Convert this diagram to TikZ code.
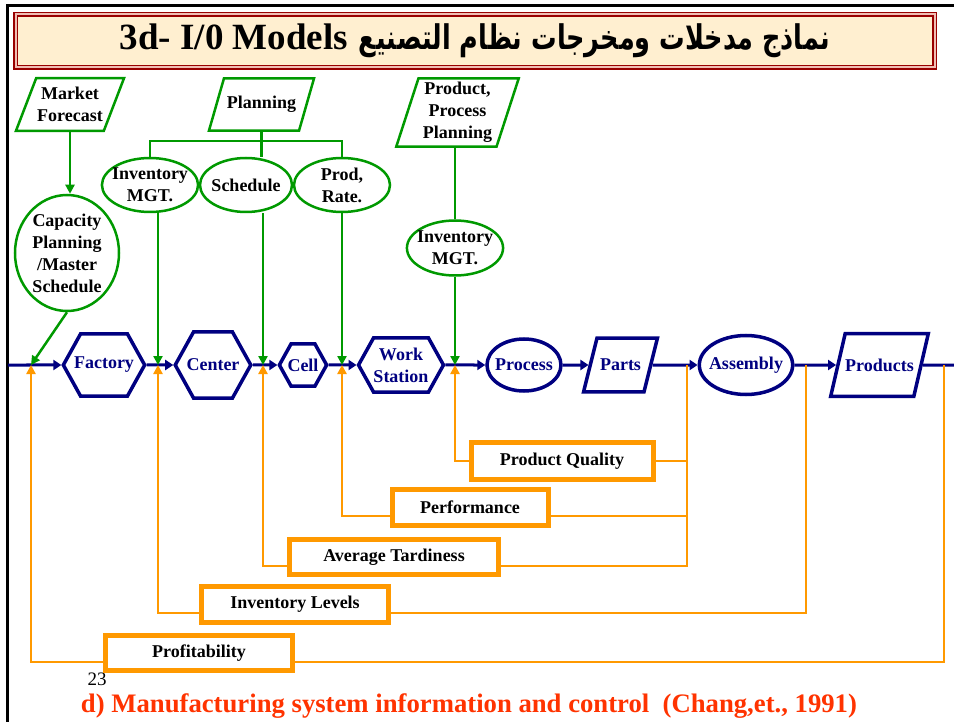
\documentclass[tikz,border=0pt]{standalone}
\usepackage{fontspec}
\setmainfont{Liberation Serif}
\newfontfamily\arabicfont[Script=Arabic]{DejaVu Sans}
\TeXXeTstate=1
\usetikzlibrary{shapes.geometric,shapes.symbols,arrows.meta}

\definecolor{navy}{RGB}{0,0,128}
\definecolor{ingreen}{RGB}{0,153,0}
\definecolor{fborange}{RGB}{255,153,0}
\definecolor{titlered}{RGB}{153,0,0}
\definecolor{titlefill}{RGB}{255,239,208}
\definecolor{titlepink}{RGB}{240,190,180}
\definecolor{captionred}{RGB}{255,51,0}

\tikzset{
  inbox/.style={trapezium,trapezium left angle=#1,trapezium right angle=180-#1,
    draw=ingreen,line width=2.5pt},
  inoval/.style={ellipse,draw=ingreen,line width=2.5pt,fill=white,inner xsep=-4pt,inner ysep=0pt},
  inline/.style={ingreen,line width=2.5pt},
  inarrow/.style={ingreen,line width=2.5pt,-{Triangle[length=9pt,width=9pt]}},
  hexa/.style={signal,signal to=east and west,signal pointer angle=122,draw=navy,
    line width=3.5pt,text=navy},
  blueoval/.style={ellipse,draw=navy,line width=3.5pt,text=navy,inner xsep=-4pt,inner ysep=0pt},
  bluepar/.style={trapezium,trapezium left angle=#1,trapezium right angle=180-#1,
    draw=navy,line width=3.5pt,text=navy},
  flow/.style={navy,line width=3pt,-{Triangle[length=8pt,width=10pt]}},
  flowline/.style={navy,line width=3pt},
  fbbox/.style={draw=fborange,line width=5pt,fill=white,inner sep=0pt},
  fbline/.style={fborange,line width=2.5pt},
  fbarrow/.style={fborange,line width=2.5pt,-{Triangle[length=9pt,width=9pt]}}
}

\begin{document}
\begin{tikzpicture}[x=1pt,y=-1pt,
  every node/.style={font=\fontsize{18}{22}\selectfont\bfseries,align=center}]

\useasboundingbox (0,0) rectangle (954,722);

\draw [line width=3pt] (7,722) -- (7,6) -- (954,6);

\node [draw=titlered,line width=1.5pt,double=titlepink,double distance=2pt,fill=titlefill,
  minimum width=919pt,minimum height=53pt] (title) at (475,41)
  {\fontsize{37}{40}\selectfont 3d- I/0 Models\hspace{11pt}%
   \scalebox{0.75}[1]{\fontsize{34}{40}\arabicfont\beginR نماذج مدخلات ومخرجات نظام التصنيع\endR}};

\node [inbox=69,inner xsep=1pt,inner ysep=9pt] (mf) at (70,104.5) {Market\\Forecast};
\node [inbox=74,inner xsep=3pt,inner ysep=18pt] (plan) at (261.5,104.5) {Planning};
\node [inbox=72,inner xsep=4.5pt,inner ysep=4pt] (ppp) at (457.5,112.5) {Product,\\Process\\Planning};

\node [inoval,minimum width=95pt,minimum height=54pt] (inv1) at (150,185) {Inventory\\MGT.};
\node [inoval,minimum width=92pt,minimum height=54pt] (sched) at (246,185) {Schedule};
\node [inoval,minimum width=96pt,minimum height=54pt] (rate) at (342,185) {Prod,\\Rate.};
\node [inoval,minimum width=104pt,minimum height=116pt] (cap) at (67,253) {Capacity\\Planning\\/Master\\Schedule};
\node [inoval,minimum width=95pt,minimum height=55pt] (inv2) at (455,248) {Inventory\\MGT.};

\node [hexa,minimum height=62pt,inner xsep=-6.5pt] (fac) at (104,365) {Factory};
\node [hexa,minimum height=66pt,inner xsep=-7pt] (cen) at (213,365) {Center};
\node [hexa,minimum height=42pt,inner xsep=-3.5pt] (cell) at (303,365) {Cell};
\node [hexa,minimum height=54pt,inner xsep=0pt] (ws) at (401,365) {Work\\Station};
\node [blueoval,minimum width=74pt,minimum height=52pt] (proc) at (524,365) {Process};
\node [bluepar=76,inner xsep=3pt,inner ysep=21pt] (parts) at (620.5,365) {Parts};
\node [bluepar=77,inner xsep=0pt,inner ysep=25pt] (prods) at (879.5,365) {Products};
\node [blueoval,minimum width=90pt,minimum height=59pt] (asm) at (746,365) {Assembly};

\node [font=\fontsize{19}{20}\selectfont] (pagenum) at (97,679) {23};

\node [fbbox,minimum width=182pt,minimum height=37pt] (pq) at (562,461) {Product Quality};
\node [fbbox,minimum width=156pt,minimum height=36pt] (pf) at (470,507) {Performance};
\node [fbbox,minimum width=209pt,minimum height=35pt] (at) at (394,557) {Average Tardiness};
\node [fbbox,minimum width=187pt,minimum height=36pt] (il) at (295,604) {Inventory Levels};
\node [fbbox,minimum width=187pt,minimum height=35pt] (pr) at (199,653) {Profitability};

\node [font=\fontsize{26.7}{30}\selectfont\bfseries,text=captionred] (caption) at (469,706)
  {d) Manufacturing system information and control\ \ (Chang,et., 1991)};

\coordinate (ml0) at (8,365);
\coordinate (ml1) at (954,365);
\coordinate (bar) at (0,141);
\coordinate (j1) at (31,365);
\coordinate (j2) at (158,365);
\coordinate (j3) at (263,365);
\coordinate (j4) at (342,365);
\coordinate (j5) at (455,365);
\coordinate (r1) at (687,365);
\coordinate (r2) at (806,365);
\coordinate (r3) at (944,365);

\draw [flow] (ml0) -- (fac);
\draw [flow] (fac) -- (cen);
\draw [flow] (cen) -- (cell);
\draw [flow] (cell) -- (ws);
\draw [flow] (ws) -- (proc);
\draw [flow] (proc) -- (parts);
\draw [flow] (parts) -- (asm);
\draw [flow] (asm) -- (prods);
\draw [flowline] (prods) -- (ml1);

\draw [inarrow] (mf.south) -- (mf.south |- cap.north);
\draw [inline] (plan.south) -- (plan.south |- sched.north);
\draw [inline] (inv1.north) |- (rate.north |- bar) -- (rate.north);
\draw [inline] (ppp.south -| inv2.north) -- (inv2.north);
\draw [inarrow] (cap.south) -- (j1);
\draw [inarrow] (inv1.south -| j2) -- (j2);
\draw [inarrow] (sched.south -| j3) -- (j3);
\draw [inarrow] (rate.south) -- (j4);
\draw [inarrow] (inv2.south) -- (j5);

\draw [fbarrow] (pq.west) -| (j5);
\draw [fbarrow] ([yshift=-9pt]pf.west) -| (j4);
\draw [fbarrow] ([yshift=-9pt]at.west) -| (j3);
\draw [fbarrow] ([yshift=-9pt]il.west) -| (j2);
\draw [fbarrow] ([yshift=-9pt]pr.west) -| (j1);
\draw [fbline] (pq.east) -| (r1);
\draw [fbline] ([yshift=-9pt]pf.east) -| (r1);
\draw [fbline] ([yshift=-9pt]at.east) -| (r1);
\draw [fbline] ([yshift=-9pt]il.east) -| (r2);
\draw [fbline] ([yshift=-9pt]pr.east) -| (r3);

\end{tikzpicture}
\end{document}
